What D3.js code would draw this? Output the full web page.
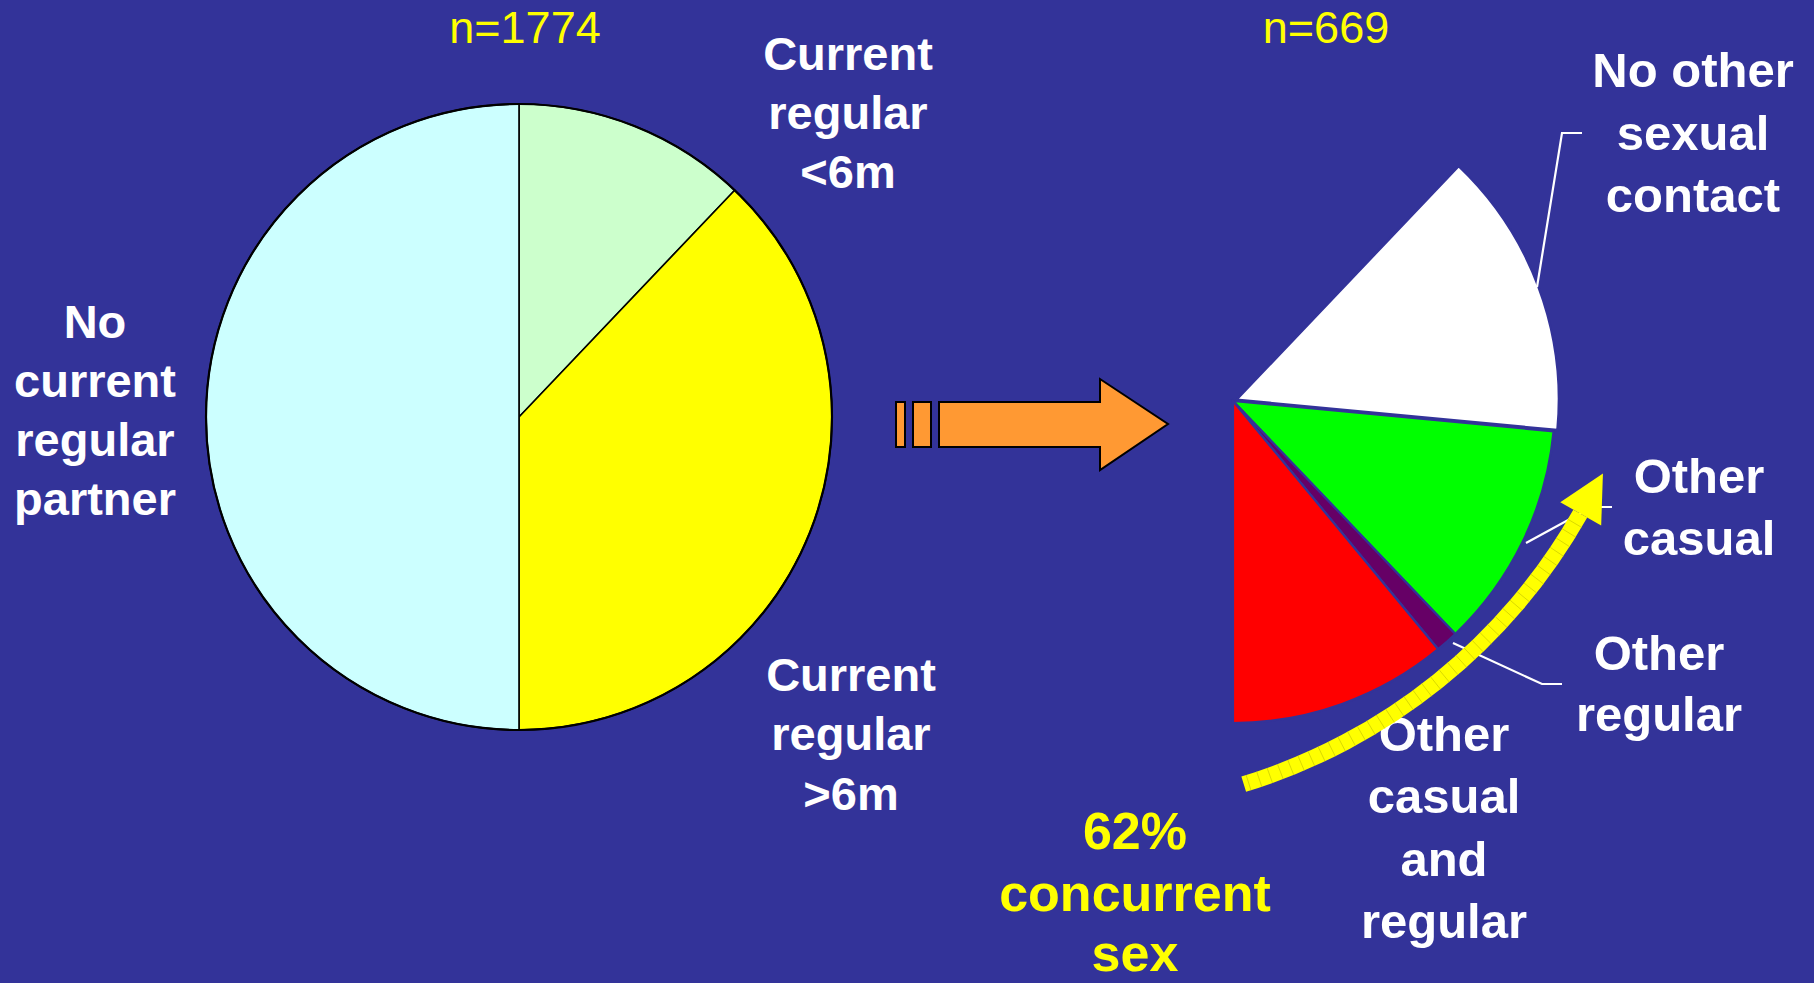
<!DOCTYPE html>
<html><head><meta charset="utf-8">
<script src="https://cdn.jsdelivr.net/npm/d3@7"></script>
<style>html,body{margin:0;padding:0;background:#333399;overflow:hidden}</style>
</head><body><svg id="c" width="1814" height="983"></svg>
<script>
// ---- data ----
const leftCategories = ["Current regular <6m", "Current regular >6m", "No current regular partner"];
const leftValues = [12.1, 37.9, 50.0];
const leftColors = ["#CCFFCC", "#FFFF00", "#CCFFFF"];
const leftTitle = "n=1774";
const rightCategories = ["No other sexual contact", "Other casual", "Other regular", "Other casual and regular"];
const rightValues = [38, 30, 3, 29];
const rightColors = ["#FFFFFF", "#00FF00", "#660066", "#FF0000"];
const rightTitle = "n=669";
const leftLabels = [["No", "current", "regular", "partner"], ["Current", "regular", "<6m"], ["Current", "regular", ">6m"]];
const rightLabels = [["No other", "sexual", "contact"], ["Other", "casual"], ["Other", "regular"], ["Other", "casual", "and", "regular"]];
const concurrentLabel = ["62%", "concurrent", "sex"];

const BG = "#333399";
const FONT = "'Liberation Sans', Arial, Helvetica, sans-serif";
const svg = d3.select("#c");
svg.append("rect").attr("width", 1814).attr("height", 983).attr("fill", BG);

// ---- left pie ----
const L = {cx: 519, cy: 417, r: 313};
const leftArcs = d3.pie().sort(null).value(d => d)(leftValues);
const arcL = d3.arc().innerRadius(0).outerRadius(L.r);
const gL = svg.append("g").attr("transform", `translate(${L.cx},${L.cy})`);
gL.selectAll("path").data(leftArcs).join("path")
  .attr("d", arcL).attr("fill", (d, i) => leftColors[i])
  .attr("stroke", "#000").attr("stroke-width", 1.6).attr("stroke-linejoin", "round");
gL.append("circle").attr("r", L.r).attr("fill", "none").attr("stroke", "#000").attr("stroke-width", 2.2);

// ---- right pie: breakdown of the ">6m" slice ----
const R = {cx: 1233, cy: 401, r: 322};
const src = leftArcs[1];
const rightArcs = d3.pie().sort(null).value(d => d)
  .startAngle(src.startAngle).endAngle(src.endAngle)(rightValues);
const arcR = d3.arc().innerRadius(0).outerRadius(R.r);
const gR = svg.append("g").attr("transform", `translate(${R.cx},${R.cy})`);
gR.selectAll("path").data(rightArcs).join("path")
  .attr("d", arcR).attr("fill", (d, i) => rightColors[i])
  .attr("stroke", BG).attr("stroke-width", 2.2).attr("stroke-linejoin", "miter")
  .attr("transform", (d, i) => {
    if (i !== 0) return null;
    const a = (d.startAngle + d.endAngle) / 2;
    return `translate(${Math.sin(a) * 4},${-Math.cos(a) * 4})`;
  });

// ---- orange block arrow ----
const og = svg.append("g").attr("fill", "#FF9933").attr("stroke", "#000").attr("stroke-width", 2);
og.append("rect").attr("x", 896).attr("y", 402).attr("width", 9).attr("height", 45);
og.append("rect").attr("x", 913).attr("y", 402).attr("width", 18).attr("height", 45);
og.append("path").attr("d", "M939,402 L1100,402 L1100,379 L1168,424 L1100,470 L1100,447 L939,447 Z")
  .attr("stroke-linejoin", "miter");

// ---- titles ----
svg.append("text").attr("x", 525).attr("y", 43).attr("text-anchor", "middle")
  .attr("font-family", FONT).attr("font-size", 45).attr("fill", "#FFFF00").text(leftTitle);
svg.append("text").attr("x", 1326).attr("y", 43).attr("text-anchor", "middle")
  .attr("font-family", FONT).attr("font-size", 45).attr("fill", "#FFFF00").text(rightTitle);

// ---- labels ----
function block(lines, x, baselines, size, color) {
  const t = svg.append("text").attr("text-anchor", "middle").attr("font-family", FONT)
    .attr("font-weight", "bold").attr("font-size", size).attr("fill", color);
  lines.forEach((s, i) => t.append("tspan").attr("x", x).attr("y", baselines[i]).text(s));
}
block(leftLabels[0], 95, [338, 397, 456, 515], 47, "#FFFFFF");
block(leftLabels[1], 848, [70, 129, 188], 47, "#FFFFFF");
block(leftLabels[2], 851, [691, 750, 810], 47, "#FFFFFF");
block(rightLabels[0], 1693, [87, 150, 212], 49, "#FFFFFF");
block(rightLabels[1], 1699, [493, 555], 49, "#FFFFFF");
block(rightLabels[2], 1659, [670, 731], 49, "#FFFFFF");
block(rightLabels[3], 1444, [751, 813, 876, 938], 49, "#FFFFFF");
block(concurrentLabel, 1135, [849, 911, 971], 52, "#FFFF00");

// ---- leader lines ----
const line = d3.line();
const leaders = [
  [[1582, 133], [1562, 133], [1537, 287]],
  [[1612, 507], [1592, 507], [1526, 543]],
  [[1453, 643], [1542, 684], [1562, 684]]
];
svg.selectAll("path.leader").data(leaders).join("path").attr("class", "leader")
  .attr("d", line).attr("fill", "none").attr("stroke", "#FFFFFF").attr("stroke-width", 2.2);

// ---- yellow curved arrow ----
const A = {cx: 1072, cy: 226, r: 584, w: 16};
const deg = Math.PI / 180;
const a0 = 119.5 * deg, a1 = 162.9 * deg;
const ya = svg.append("g").attr("transform", `translate(${A.cx},${A.cy})`);
ya.append("path").attr("d", d3.arc().innerRadius(A.r - A.w / 2).outerRadius(A.r + A.w / 2)
  .startAngle(a0).endAngle(a1)()).attr("fill", "#FFFF00");
const stripes = d3.range(a0 + 1.1 * deg, a1, 1.1 * deg);
ya.selectAll("line").data(stripes).join("line")
  .attr("x1", a => Math.sin(a) * (A.r - A.w / 2)).attr("y1", a => -Math.cos(a) * (A.r - A.w / 2))
  .attr("x2", a => Math.sin(a) * (A.r + A.w / 2)).attr("y2", a => -Math.cos(a) * (A.r + A.w / 2))
  .attr("stroke", "#C8C800").attr("stroke-width", 0.7);
const pt = (a, r) => [Math.sin(a) * r, -Math.cos(a) * r];
const b1 = pt(a0, A.r - 23), b2 = pt(a0, A.r + 24), bm = pt(a0, A.r);
const tang = [-Math.cos(a0), -Math.sin(a0)];
const tip = [bm[0] + tang[0] * 46, bm[1] + tang[1] * 46];
ya.append("path").attr("d", `M${b1}L${tip}L${b2}Z`).attr("fill", "#FFFF00");
</script>
</body></html>
